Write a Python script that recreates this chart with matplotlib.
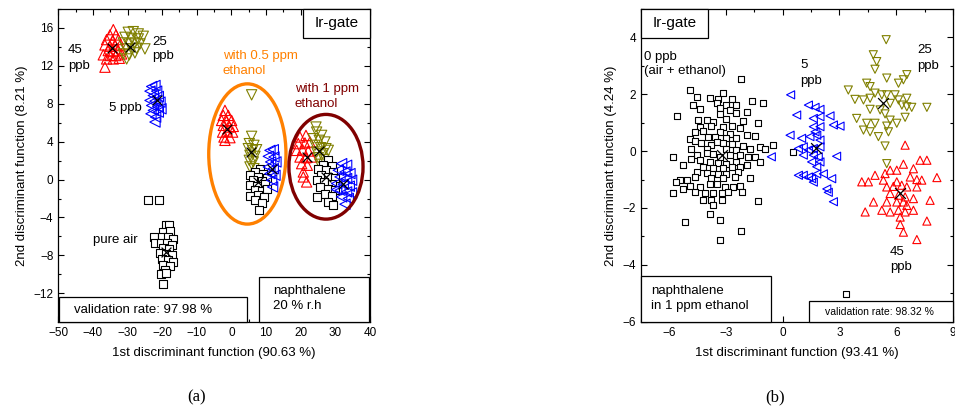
import numpy as np
import matplotlib
matplotlib.use("Agg")
import matplotlib.pyplot as plt
from matplotlib.patches import Ellipse, Rectangle
from matplotlib.ticker import MultipleLocator

plt.rcParams['font.family'] = ['Liberation Sans', 'DejaVu Sans']

# ---------------- panel (a): naphthalene, 20 % r.h ----------------
a_45ppb = [(-34.11, 15.82), (-35.08, 15.26), (-33.34, 15.26), (-36.04, 14.77), (-34.31, 14.66),
           (-32.67, 14.77), (-36.52, 14.21), (-35.08, 14.07), (-33.63, 14.21), (-32.19, 14.14),
           (-35.56, 13.61), (-34.11, 13.51), (-32.67, 13.61), (-37.0, 13.16), (-35.08, 13.09),
           (-33.34, 13.09), (-31.71, 13.26), (-36.04, 12.73), (-34.11, 12.73), (-32.38, 12.80),
           (-36.52, 11.86)]
a_25ppb = [(-29.78, 15.54), (-28.34, 15.61), (-26.89, 15.37), (-30.74, 15.01), (-28.82, 14.91),
           (-26.89, 14.84), (-25.45, 15.12), (-31.23, 14.42), (-29.49, 14.31), (-27.86, 14.42),
           (-26.41, 14.31), (-30.46, 13.79), (-28.82, 13.79), (-27.38, 13.86), (-31.23, 13.26),
           (-29.49, 13.16), (-27.86, 13.37), (-30.26, 12.73), (-24.97, 13.79)]
a_5ppb = [(-23.04, 9.82), (-22.08, 9.93), (-23.52, 9.33), (-21.59, 9.33), (-22.56, 8.87),
          (-21.11, 8.77), (-23.52, 8.35), (-22.08, 8.28), (-20.63, 8.17), (-23.04, 7.82),
          (-21.30, 7.72), (-22.56, 7.30), (-21.11, 7.12), (-21.88, 6.59), (-22.08, 6.07),
          (-23.23, 6.94), (-20.34, 7.47)]
a_air = [(-24.0, -2.18), (-20.83, -2.11), (-18.90, -4.81), (-17.94, -4.81), (-19.67, -5.51),
         (-17.75, -5.41), (-22.37, -6.11), (-20.15, -6.04), (-18.23, -6.11), (-16.79, -6.32),
         (-22.08, -6.67), (-20.44, -6.74), (-18.71, -6.67), (-17.27, -6.91), (-19.67, -7.27),
         (-17.94, -7.37), (-20.64, -7.79), (-18.90, -7.86), (-17.27, -7.97), (-20.15, -8.42),
         (-18.23, -8.49), (-16.79, -8.67), (-19.67, -9.02), (-17.75, -9.13), (-19.19, -9.55),
         (-20.44, -9.97), (-18.90, -9.90), (-19.86, -11.02)]
# with 0.5 ppm ethanol
a_e05_45 = [(-1.87, 7.30), (-2.35, 6.77), (-0.91, 6.77), (-2.83, 6.24), (-1.39, 6.17),
            (0.05, 6.24), (-2.35, 5.72), (-0.62, 5.54), (0.54, 5.61), (-2.55, 5.01),
            (-1.20, 5.12), (0.34, 5.01), (-2.16, 4.49), (-0.43, 4.42), (-1.87, 4.14)]
a_e05_25 = [(5.83, 8.94), (5.83, 4.56), (5.16, 3.79), (6.50, 3.61), (4.87, 3.26), (6.12, 3.08),
            (7.27, 3.15), (5.35, 2.56), (6.79, 2.45), (5.16, 2.03), (6.31, 1.86), (5.35, 1.33),
            (6.50, 1.15)]
a_e05_5 = [(11.12, 3.08), (12.09, 3.15), (10.64, 2.45), (12.28, 2.38), (11.32, 1.86),
           (12.85, 1.86), (10.64, 1.33), (12.09, 1.15), (11.12, 0.63), (12.57, 0.45),
           (11.60, -0.07), (11.89, -0.78)]
a_e05_0 = [(8.24, 1.15), (6.79, 0.80), (9.20, 0.63), (5.35, 0.45), (7.75, 0.28), (10.16, 0.21),
           (6.31, -0.07), (8.72, -0.14), (5.35, -0.60), (7.27, -0.70), (9.68, -0.49),
           (6.79, -1.13), (8.72, -1.20), (10.16, -0.95), (5.35, -1.76), (7.75, -1.65),
           (9.39, -1.83), (6.79, -2.18), (8.72, -2.46), (8.04, -3.23)]
# with 1 ppm ethanol
a_e1_45 = [(19.79, 4.49), (21.52, 4.66), (19.30, 3.79), (21.23, 3.86), (22.67, 3.96),
           (18.82, 3.08), (20.56, 3.15), (22.19, 3.01), (19.79, 2.38), (21.52, 2.31),
           (23.15, 2.38), (20.27, 1.68), (21.90, 1.51), (20.75, 0.80), (21.71, -0.25),
           (20.75, 0.28)]
a_e1_25 = [(24.41, 5.54), (24.60, 5.01), (26.04, 4.66), (23.64, 4.31), (25.37, 4.14),
           (27.00, 3.96), (24.12, 3.61), (25.75, 3.36), (27.29, 3.26), (24.60, 2.91),
           (26.33, 2.73), (27.97, 3.08), (25.08, 2.31), (26.71, 2.10), (25.56, 1.61)]
a_e1_0 = [(27.97, 2.10), (26.52, 1.51), (28.93, 1.40), (25.08, 1.15), (27.29, 0.98),
          (29.41, 0.80), (25.75, 0.45), (27.97, 0.28), (29.89, 0.21), (24.60, -0.07),
          (26.71, -0.25), (28.93, -0.42), (25.56, -0.78), (27.97, -0.95), (29.89, -1.13),
          (27.0, -1.48), (28.93, -1.76), (27.97, -2.35), (29.22, -2.70), (24.79, -1.83)]
a_e1_5 = [(31.82, 1.68), (33.26, 1.51), (30.85, 0.98), (32.78, 0.80), (34.22, 0.63),
          (31.34, 0.28), (33.26, 0.10), (34.70, -0.07), (30.37, -0.42), (32.30, -0.49),
          (34.03, -0.70), (31.34, -1.13), (33.26, -1.30), (34.70, -1.41), (31.82, -1.83),
          (33.74, -2.00), (32.78, -2.60), (30.37, -1.06)]
a_centroids = [(-34.59, 13.89), (-29.30, 13.96), (-21.59, 8.35), (-18.8, -7.6),
               (-1.20, 5.30), (5.64, 2.91), (11.60, 1.15), (7.75, -0.25),
               (21.71, 2.38), (25.37, 3.01), (27.29, 0.28), (32.30, -0.49)]

# ---------------- panel (b): naphthalene in 1 ppm ethanol ----------------
b_0ppb = [(-2.22, 2.53), (-4.91, 2.15), (-3.14, 2.06), (-4.55, 1.89), (-3.85, 1.88), (-3.41, 1.82),
          (-2.70, 1.82), (-1.64, 1.77), (-1.06, 1.68), (-4.73, 1.62), (-3.49, 1.68), (-2.97, 1.62),
          (-2.44, 1.62), (-4.38, 1.47), (-3.32, 1.51), (-2.79, 1.45), (-1.91, 1.39), (-5.56, 1.24),
          (-3.32, 1.31), (-2.44, 1.33), (-4.46, 1.09), (-4.02, 1.09), (-3.67, 1.04), (-2.97, 1.12),
          (-2.08, 1.07), (-1.29, 0.98), (-4.38, 0.84), (-3.76, 0.88), (-3.14, 0.86), (-2.70, 0.88),
          (-2.26, 0.80), (-4.20, 0.72), (-4.64, 0.68), (-3.32, 0.68), (-2.79, 0.62), (-1.91, 0.57),
          (-1.47, 0.53), (-4.91, 0.41), (-3.94, 0.48), (-3.58, 0.51), (-2.97, 0.45), (-2.44, 0.47),
          (-3.49, 0.33), (-4.64, 0.37), (-4.29, 0.27), (-3.76, 0.21), (-3.14, 0.27), (-2.70, 0.25),
          (-2.08, 0.18), (-1.73, 0.09), (-1.20, 0.13), (-0.94, 0.09), (-0.50, 0.21), (-4.82, 0.06),
          (-4.02, 0.09), (-2.97, 0.06), (-2.44, 0.04), (-4.55, -0.14), (-4.02, -0.08), (-3.67, -0.11),
          (-3.32, -0.20), (-2.79, -0.14), (-2.26, -0.14), (-1.82, -0.20), (-1.47, -0.20), (-5.79, -0.20),
          (-4.82, -0.26), (-4.38, -0.32), (-3.85, -0.38), (-3.41, -0.41), (-2.97, -0.44), (-2.44, -0.38),
          (-1.91, -0.49), (-1.20, -0.38), (-5.26, -0.49), (-4.20, -0.55), (-3.67, -0.61), (-3.14, -0.61),
          (-2.70, -0.55), (-2.26, -0.55), (-4.55, -0.73), (-4.02, -0.76), (-3.41, -0.79), (-2.97, -0.79),
          (-2.35, -0.73), (-5.43, -1.02), (-5.08, -1.02), (-4.64, -0.91), (-3.76, -0.96), (-3.14, -0.96),
          (-2.52, -0.91), (-1.73, -0.93), (-4.91, -1.24), (-4.38, -1.26), (-3.85, -1.16), (-3.49, -1.14),
          (-3.05, -1.26), (-2.61, -1.26), (-2.26, -1.24), (-5.61, -1.08), (-5.79, -1.49), (-5.26, -1.32),
          (-4.64, -1.44), (-4.11, -1.49), (-3.67, -1.47), (-3.23, -1.49), (-2.88, -1.44), (-2.17, -1.44),
          (-4.20, -1.73), (-3.76, -1.71), (-3.23, -1.73), (-1.29, -1.75), (-3.67, -1.91), (-3.85, -2.20),
          (-3.32, -2.41), (-5.17, -2.49), (-2.22, -2.81), (-3.32, -3.14), (0.56, -0.02), (3.33, -5.02)]
b_5ppb = [(0.42, 1.98), (1.36, 1.62), (1.71, 1.54), (1.97, 1.47), (0.74, 1.27), (1.62, 1.15),
          (1.97, 1.21), (2.50, 1.24), (3.03, 0.88), (2.68, 0.92), (1.62, 0.86), (1.97, 0.86),
          (1.71, 0.68), (0.39, 0.56), (1.00, 0.45), (1.44, 0.51), (1.80, 0.56), (1.97, 0.39),
          (0.83, 0.09), (1.09, 0.15), (1.36, 0.04), (1.62, 0.09), (1.97, 0.15), (1.09, -0.14),
          (1.62, -0.14), (1.88, -0.20), (1.97, -0.38), (2.85, -0.18), (1.53, -0.38), (1.80, -0.55),
          (0.83, -0.85), (1.09, -0.85), (1.36, -0.91), (1.53, -0.97), (1.80, -0.80), (2.15, -0.80),
          (1.62, -1.09), (2.59, -0.97), (2.33, -1.33), (2.41, -1.45), (2.68, -1.78), (-0.6, -0.2)]
b_25ppb = [(5.47, 3.92), (4.79, 3.39), (4.97, 3.15), (4.88, 2.88), (5.50, 2.57), (6.56, 2.69),
           (6.38, 2.51), (6.12, 2.39), (4.44, 2.39), (4.62, 2.27), (3.47, 2.15), (3.82, 1.82),
           (4.27, 1.80), (4.62, 1.86), (4.88, 2.04), (5.24, 1.98), (5.50, 1.98), (5.94, 1.98),
           (6.12, 1.80), (6.56, 1.86), (6.30, 1.62), (6.56, 1.56), (6.82, 1.54), (7.62, 1.54),
           (5.68, 1.68), (4.62, 1.47), (5.15, 1.45), (5.41, 1.31), (5.68, 1.09), (6.47, 1.19),
           (3.91, 1.15), (4.44, 0.98), (4.88, 0.98), (5.50, 0.88), (6.03, 0.98), (4.27, 0.74),
           (4.62, 0.68), (5.06, 0.51), (5.59, 0.68), (5.41, 0.18), (5.50, -0.44)]
b_45ppb = [(6.47, 0.21), (7.26, -0.32), (7.62, -0.32), (6.38, -0.46), (5.68, -0.67), (6.03, -0.67),
           (5.41, -0.79), (6.91, -0.62), (4.88, -0.85), (4.18, -1.08), (4.53, -1.08), (5.32, -1.02),
           (6.03, -1.08), (6.74, -0.91), (7.09, -1.00), (7.35, -1.02), (8.15, -0.93), (5.50, -1.26),
           (5.85, -1.24), (6.29, -1.20), (6.56, -1.26), (7.09, -1.26), (5.68, -1.49), (6.12, -1.55),
           (6.47, -1.61), (6.91, -1.67), (7.79, -1.73), (4.80, -1.79), (5.50, -1.79), (6.03, -1.79),
           (6.38, -1.79), (6.56, -1.91), (4.36, -2.14), (5.24, -2.08), (5.68, -2.14), (6.12, -2.08),
           (6.47, -2.14), (6.91, -2.08), (6.21, -2.32), (7.62, -2.46), (6.21, -2.58), (6.38, -2.85),
           (7.09, -3.11)]
b_centroids = [(-3.2, -0.15), (1.74, 0.12), (5.32, 1.71), (6.21, -1.49)]

# ellipses around the ethanol groups (center x, center y, width, height)
ell_05 = (4.6, 2.7, 22.3, 14.8)
ell_1 = (27.3, 1.35, 21.4, 11.05)

RED, OLIVE, BLUE, BLACK = '#FF0000', '#808000', '#0000FF', '#000000'
ORANGE, DARKRED = '#FF8000', '#800000'


def scat(ax, pts, marker, color, s, filled=False):
    p = np.array(pts)
    fc = 'white' if filled else 'none'
    ax.scatter(p[:, 0], p[:, 1], marker=marker, s=s, facecolors=fc,
               edgecolors=color, linewidths=0.8, zorder=3)


def style_axes(ax, xmaj, xmin, ymaj, ymin):
    ax.xaxis.set_major_locator(MultipleLocator(xmaj))
    ax.xaxis.set_minor_locator(MultipleLocator(xmin))
    ax.yaxis.set_major_locator(MultipleLocator(ymaj))
    ax.yaxis.set_minor_locator(MultipleLocator(ymin))
    ax.tick_params(which='both', direction='in', top=True, right=True, labelsize=8.5)
    ax.tick_params(which='major', length=4, width=0.8)
    ax.tick_params(which='minor', length=2, width=0.8)
    for sp in ax.spines.values():
        sp.set_linewidth(0.9)


def box_text(ax, x0, y0, w, h, txt, tx, ty, size, ha='left'):
    ax.add_patch(Rectangle((x0, y0), w, h, transform=ax.transAxes, facecolor='white',
                           edgecolor='black', linewidth=0.9, zorder=5, clip_on=False))
    ax.text(tx, ty, txt, transform=ax.transAxes, fontsize=size, ha=ha, va='center',
            zorder=6, linespacing=1.35)


fig = plt.figure(figsize=(9.55, 4.07), dpi=100)

# ---- (a)
ax1 = fig.add_axes([0.0610, 0.2096, 0.3264, 0.7683])
ax1.set_xlim(-50, 40)
ax1.set_ylim(-15, 18)
style_axes(ax1, 10, 5, 4, 2)

sa, sb = 55, 40
scat(ax1, a_45ppb, '^', RED, sa)
scat(ax1, a_25ppb, 'v', OLIVE, sa)
scat(ax1, a_5ppb, '<', BLUE, sa)
scat(ax1, a_air, 's', BLACK, sb, filled=True)
scat(ax1, a_e05_45, '^', RED, sa)
scat(ax1, a_e05_25, 'v', OLIVE, sa)
scat(ax1, a_e05_0, 's', BLACK, sb, filled=True)
scat(ax1, a_e05_5, '<', BLUE, sa)
scat(ax1, a_e1_45, '^', RED, sa)
scat(ax1, a_e1_25, 'v', OLIVE, sa)
scat(ax1, a_e1_0, 's', BLACK, sb, filled=True)
scat(ax1, a_e1_5, '<', BLUE, sa)
c = np.array(a_centroids)
ax1.scatter(c[:, 0], c[:, 1], marker='x', s=50, color='black', linewidths=0.9, zorder=4)

for (cx, cy, w, h), col in [(ell_05, ORANGE), (ell_1, DARKRED)]:
    ax1.add_patch(Ellipse((cx, cy), w, h, fill=False, edgecolor=col, linewidth=2.4, zorder=4))

fs = 9.5
ax1.text(-47.2, 12.87, "45\nppb", fontsize=fs, va='center', linespacing=1.45)
ax1.text(-22.95, 13.77, "25\nppb", fontsize=fs, va='center', linespacing=1.3)
ax1.text(-35.27, 7.5, "5 ppb", fontsize=fs, va='center')
ax1.text(-2.53, 12.27, "with 0.5 ppm\nethanol", fontsize=fs, va='center', color=ORANGE, linespacing=1.3)
ax1.text(18.35, 8.77, "with 1 ppm\nethanol", fontsize=fs, va='center', color=DARKRED, linespacing=1.3)
ax1.text(-40.07, -6.39, "pure air", fontsize=fs, va='center')

box_text(ax1, 0.785, 0.907, 0.215, 0.093, "Ir-gate", 0.892, 0.954, 11, ha='center')
box_text(ax1, 0.002, 0.0, 0.603, 0.079, "validation rate: 97.98 %", 0.05, 0.037, fs)
box_text(ax1, 0.644, 0.0, 0.353, 0.143, "naphthalene\n20 % r.h", 0.688, 0.073, fs)

ax1.set_xlabel("1st discriminant function (90.63 %)", fontsize=9.5, labelpad=6)
ax1.set_ylabel("2nd discriminant function (8.21 %)", fontsize=9.5, labelpad=4)

# ---- (b)
ax2 = fig.add_axes([0.6709, 0.2096, 0.3270, 0.7683])
ax2.set_xlim(-7.5, 9)
ax2.set_ylim(-6, 5)
style_axes(ax2, 3, 1.5, 2, 1)

sc, sd = 34, 20
scat(ax2, b_0ppb, 's', BLACK, sd, filled=True)
scat(ax2, b_5ppb, '<', BLUE, sc)
scat(ax2, b_25ppb, 'v', OLIVE, sc)
scat(ax2, b_45ppb, '^', RED, sc)
c = np.array(b_centroids)
ax2.scatter(c[:, 0], c[:, 1], marker='x', s=60, color='black', linewidths=0.9, zorder=4)

ax2.text(-7.30, 3.07, "0 ppb\n(air + ethanol)", fontsize=fs, va='center', linespacing=1.3)
ax2.text(0.95, 2.75, "5\nppb", fontsize=fs, va='center', linespacing=1.4)
ax2.text(7.09, 3.27, "25\nppb", fontsize=fs, va='center', linespacing=1.4)
ax2.text(5.68, -3.81, "45\nppb", fontsize=fs, va='center', linespacing=1.4)

box_text(ax2, 0.001, 0.907, 0.215, 0.093, "Ir-gate", 0.108, 0.954, 11, ha='center')
box_text(ax2, 0.0, 0.0, 0.417, 0.147, "naphthalene\nin 1 ppm ethanol", 0.032, 0.074, fs)
box_text(ax2, 0.539, 0.0, 0.461, 0.066, "validation rate: 98.32 %", 0.766, 0.031, 7.5, ha='center')

ax2.set_xlabel("1st discriminant function (93.41 %)", fontsize=9.5, labelpad=6)
ax2.set_ylabel("2nd discriminant function (4.24 %)", fontsize=9.5, labelpad=4)

fig.text(0.2063, 0.0246, "(a)", fontsize=12, family=['Liberation Serif', 'DejaVu Serif'],
         ha='center', va='center')
fig.text(0.8115, 0.0246, "(b)", fontsize=12, family=['Liberation Serif', 'DejaVu Serif'],
         ha='center', va='center')

fig.savefig("out.png", dpi=100)
